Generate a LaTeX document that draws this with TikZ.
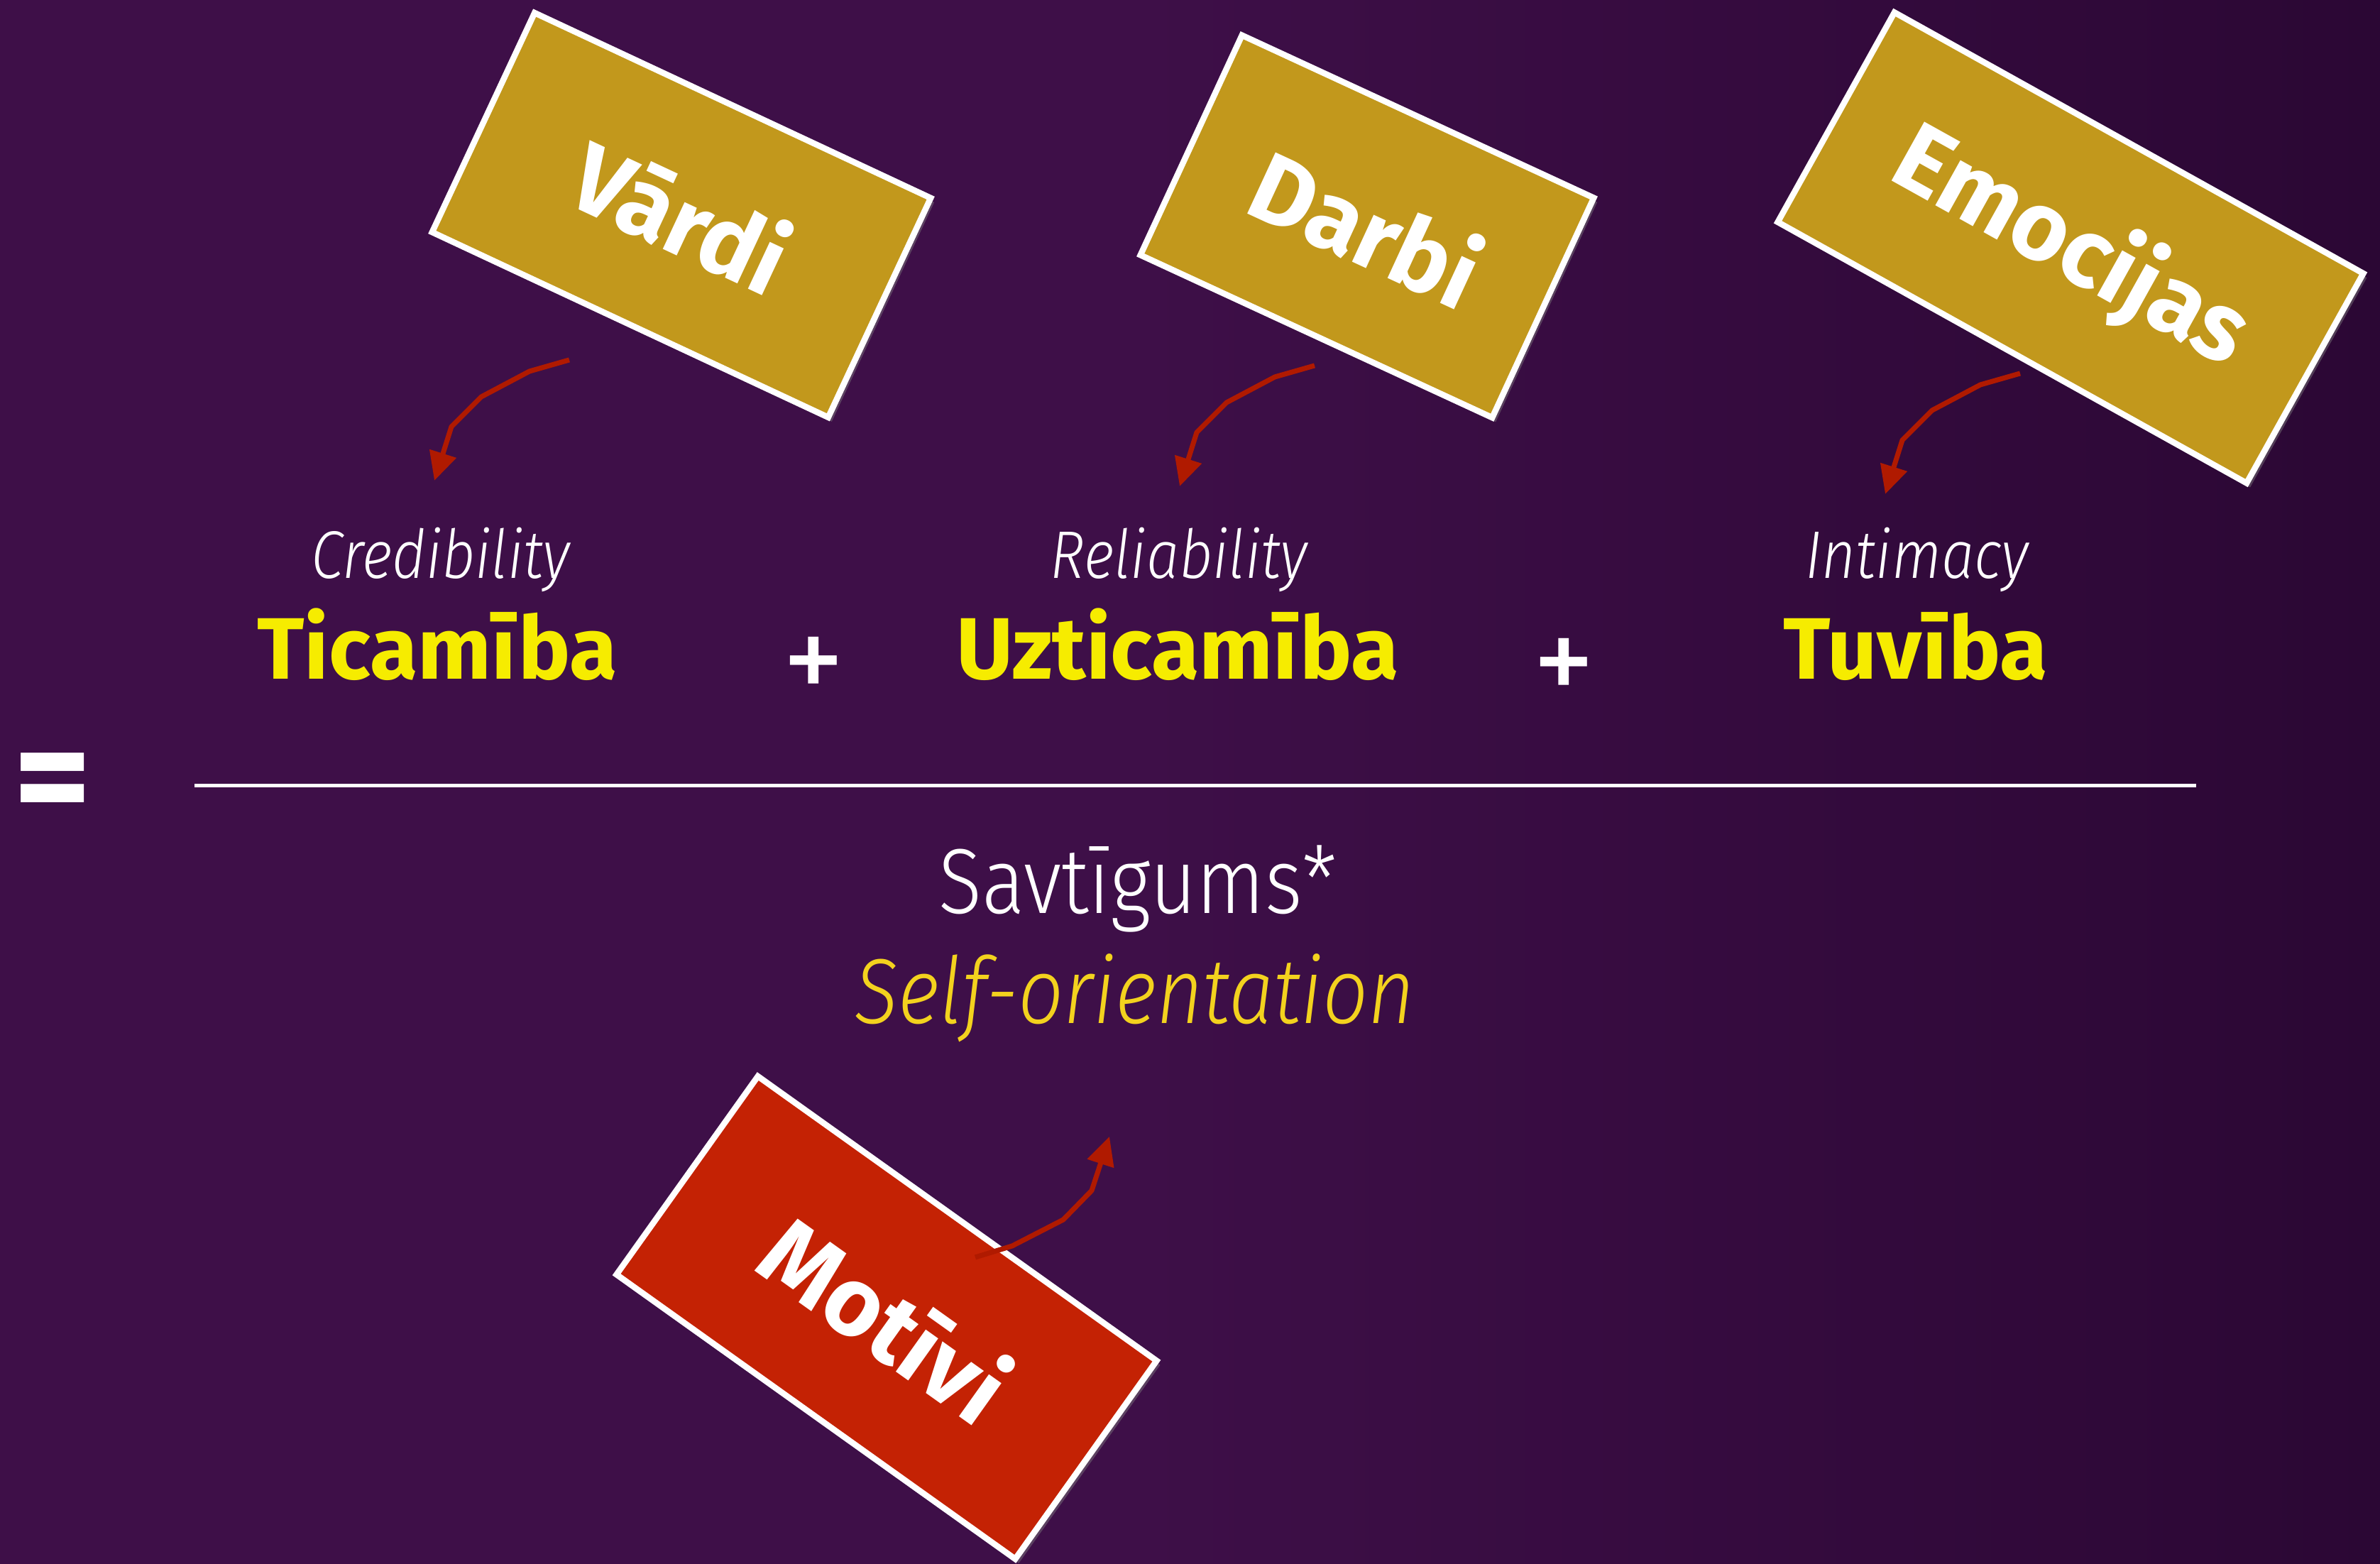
\documentclass[tikz,border=0pt]{standalone}
\usepackage{fontspec}
\setmainfont{Fira Sans}
\newfontfamily\lightfont{Fira Sans Light}[FakeStretch=0.87]
\usepackage{tikz}
\usetikzlibrary{arrows.meta,shadows}
\definecolor{bg}{HTML}{3E0F48}
\definecolor{bgdark}{HTML}{2B0734}
\definecolor{gold}{HTML}{C2981C}
\definecolor{brick}{HTML}{C42204}
\definecolor{arrowred}{HTML}{B01A00}
\definecolor{lemon}{HTML}{F6EC00}
\definecolor{amber}{HTML}{F3D21E}
\tikzset{
  card/.style={draw=white, line width=2.4pt, fill=gold, text=white, inner sep=0pt,
    font=\bfseries\fontsize{39}{44}\selectfont,
    drop shadow={opacity=0.45, shadow xshift=0.05cm, shadow yshift=-0.06cm}},
  pointer/.style={draw=arrowred, line width=2pt, line join=round,
    -{Triangle[length=0.40cm,width=0.38cm]}},
  term/.style={text=lemon, font=\bfseries\fontsize{35}{40}\selectfont, anchor=base},
  gloss/.style={text=white, font=\lightfont\itshape\fontsize{27}{30}\selectfont, anchor=base},
  op/.style={text=white, font=\fontsize{50}{54}\selectfont},
  bar/.style={draw=white, line width=1.4pt},
}

\begin{document}
\begin{tikzpicture}
  \useasboundingbox (0,0) rectangle (33.53,22.03);
  % background
  \fill[bg] (0,0) rectangle (33.53,22.03);
  \shade[left color=bg, right color=bgdark] (16,0) rectangle (33.53,22.03);

  % tilted cards
  \node[card, rotate=-25.05, minimum width=6.16cm, minimum height=3.41cm] (vardi) at (9.60,19.00) {Vārdi};
  \node[card, rotate=-24.8, minimum width=5.46cm, minimum height=3.41cm] (darbi) at (19.26,18.84) {Darbi};
  \node[card, rotate=-29.1, minimum width=7.56cm, minimum height=3.38cm] (emocijas) at (29.17,18.54) {Emocijas};

  % arrow starts
  \coordinate (va) at (8.02,16.96);
  \coordinate (da) at (18.52,16.88);
  \coordinate (ea) at (28.46,16.77);
  \foreach \s in {va,da,ea}
    \draw[pointer] (\s) -- ++(-0.56,-0.16) -- ++(-0.68,-0.36) -- ++(-0.42,-0.42) -- ++(-0.24,-0.76);

  % numerator
  \node[gloss] (cred) at (6.21,13.88) {Credibility};
  \node[term] (tic) at (6.16,12.46) {Ticamība};
  \node[op] (plusA) at (11.46,12.60) {+};
  \node[gloss] (rel) at (16.61,13.88) {Reliability};
  \node[term] (uzt) at (16.59,12.46) {Uzticamība};
  \node[op] (plusB) at (22.03,12.58) {+};
  \node[gloss] (intim) at (27.01,13.88) {Intimacy};
  \node[term] (tuv) at (26.99,12.46) {Tuvība};

  % fraction bar
  \node[op, font=\bfseries\fontsize{60}{64}\selectfont] (eq) at (0.74,10.90) {=};
  \coordinate (barL) at (2.74,10.965);
  \coordinate (barR) at (30.94,10.965);
  \draw[bar] (barL) -- (barR);

  % denominator
  \node[text=white, font=\lightfont\fontsize{37}{40}\selectfont, anchor=base] (savt) at (16.03,9.16) {Savtīgums*};
  \node[text=amber, font=\lightfont\itshape\fontsize{37}{40}\selectfont, anchor=base] (self) at (15.99,7.61) {Self-orientation};

  \node[card, fill=brick, rotate=-35.5, minimum width=6.90cm, minimum height=3.43cm] (motivi) at (12.49,3.47) {Motīvi};
  \coordinate (ma) at (13.74,4.32);
  \draw[pointer] (ma) -- ++(0.52,0.16) -- ++(0.72,0.37) -- ++(0.40,0.41) -- ++(0.25,0.76);
\end{tikzpicture}
\end{document}
